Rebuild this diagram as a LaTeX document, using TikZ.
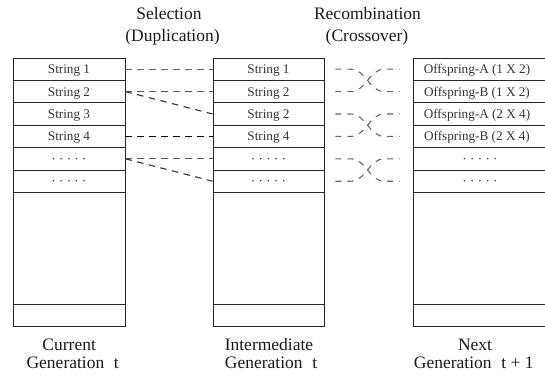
\documentclass[tikz,border=0pt]{standalone}
\usepackage{fontspec}
\setmainfont{Liberation Serif}
\usetikzlibrary{calc}
\newcommand\mydots{·\ ·\ ·\ ·\ ·}
\begin{document}
\begin{tikzpicture}[x=1pt,y=-1pt,
  cell/.style={draw=black!85, line width=0.9pt, minimum height=22.4pt, inner sep=0pt,
    font=\fontsize{13.2}{15}\selectfont, text=black!80, text height=9pt, text depth=0pt},
  lcol/.style={cell, minimum width=112pt},
  mcol/.style={cell, minimum width=111pt},
  rcol/.style={cell, minimum width=134pt},
  bigcell/.style={minimum height=111.6pt},
  endcell/.style={minimum height=22pt},
  sel/.style={line width=1.1pt, dash pattern=on 6.5pt off 5.5pt},
  cross/.style={line width=1.1pt, black!60, dash pattern=on 6pt off 6pt},
  lbl/.style={font=\fontsize{17.5}{20}\selectfont, text=black!90, inner sep=0pt, anchor=base}
]
\useasboundingbox (0,0) rectangle (545,377);

% left column
\node[lcol] (L1) at (69,69.2) {String 1};
\node[lcol] (L2) at (69,91.6) {String 2};
\node[lcol] (L3) at (69,114.0) {String 3};
\node[lcol] (L4) at (69,136.4) {String 4};
\node[lcol] (L5) at (69,158.8) {\mydots};
\node[lcol] (L6) at (69,181.2) {\mydots};
\node[lcol,bigcell] (L7) at (69,248.2) {};
\node[lcol,endcell] (L8) at (69,315) {};

% middle column
\node[mcol] (M1) at (268.5,69.2) {String 1};
\node[mcol] (M2) at (268.5,91.6) {String 2};
\node[mcol] (M3) at (268.5,114.0) {String 2};
\node[mcol] (M4) at (268.5,136.4) {String 4};
\node[mcol] (M5) at (268.5,158.8) {\mydots};
\node[mcol] (M6) at (268.5,181.2) {\mydots};
\node[mcol,bigcell] (M7) at (268.5,248.2) {};
\node[mcol,endcell] (M8) at (268.5,315) {};

% right column
\node[rcol] (R1) at (480,69.2) {\hspace*{-6pt}Offspring-A (1 X 2)};
\node[rcol] (R2) at (480,91.6) {\hspace*{-6pt}Offspring-B (1 X 2)};
\node[rcol] (R3) at (480,114.0) {\hspace*{-6pt}Offspring-A (2 X 4)};
\node[rcol] (R4) at (480,136.4) {\hspace*{-6pt}Offspring-B (2 X 4)};
\node[rcol] (R5) at (480,158.8) {\mydots};
\node[rcol] (R6) at (480,181.2) {\mydots};
\node[rcol,bigcell] (R7) at (480,248.2) {};
\node[rcol,endcell] (R8) at (480,315) {};

% selection (duplication)
\draw[sel, black!60] (L1.east) -- (M1.west);
\draw[sel, black!65] (L2.east) -- (M2.west);
\draw[sel, black!80] (L2.east) -- (M3.west);
\draw[sel, black] (L4.east) -- (M4.west);
\draw[sel, black!65] (L5.east) -- (M5.west);
\draw[sel, black!80] (L5.east) -- (M6.west);

% recombination (crossover)
\foreach \a/\b in {1/2,3/4,5/6}{
  \coordinate (xa\a) at ($(M\a.east)+(11,0)$);
  \coordinate (xa\b) at ($(M\b.east)+(11,0)$);
  \coordinate (xb\a) at ($(R\a.west)+(-13,0)$);
  \coordinate (xb\b) at ($(R\b.west)+(-13,0)$);
  \draw[cross] (xa\a) -- ++(15,0) to[out=0,in=180] ($(xb\b)+(-15,0)$) -- (xb\b);
  \draw[cross] (xa\b) -- ++(15,0) to[out=0,in=180] ($(xb\a)+(-15,0)$) -- (xb\a);
}

% labels
\node[lbl] (sel1) at (169,20) {Selection};
\node[lbl] (sel2) at (172.5,41.7) {(Duplication)};
\node[lbl] (rec1) at (367.5,20) {Recombination};
\node[lbl] (rec2) at (367,41.7) {(Crossover)};

\node[lbl] (cur1) at (69.2,350.5) {Current};
\node[lbl] (cur2) at (72.7,368.5) {Generation\hspace{0.55em}t};
\node[lbl] (int1) at (269,350.5) {Intermediate};
\node[lbl] (int2) at (271,368.5) {Generation\hspace{0.55em}t};
\node[lbl] (nxt1) at (475,350.5) {Next};
\node[lbl] (nxt2) at (473.7,368.5) {Generation\hspace{0.55em}t + 1};
\end{tikzpicture}
\end{document}
